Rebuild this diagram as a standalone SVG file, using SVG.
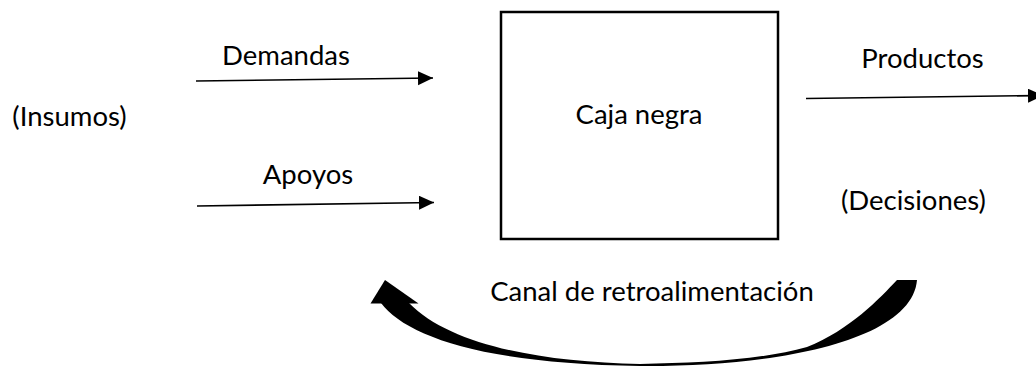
<svg xmlns="http://www.w3.org/2000/svg" width="1036" height="367" viewBox="0 0 1036 367">
<style>
.t{font-family:Lato,"Liberation Sans",sans-serif;font-size:27.5px;fill:#000;text-anchor:middle}
.c{stroke:#000;stroke-width:1.6;fill:none}
</style>
<defs>
<marker id="ah" markerUnits="userSpaceOnUse" markerWidth="16" markerHeight="15" refX="15" refY="7" orient="auto">
<path d="M0,0 L15,7 L0,14 Z" fill="#000"/>
</marker>
</defs>
<rect width="1036" height="367" fill="#fff"/>
<g id="insumos"><text class="t" x="69.5" y="126">(Insumos)</text></g>
<g id="caja"><rect x="501" y="12" width="277" height="227" fill="#fff" stroke="#000" stroke-width="2.5"/><text class="t" x="639" y="124">Caja negra</text></g>
<g id="decisiones"><text class="t" x="913.5" y="210">(Decisiones)</text></g>
<g id="connectors">
<line class="c" x1="196" y1="81" x2="433" y2="78" marker-end="url(#ah)"/>
<text class="t" x="286" y="65">Demandas</text>
<line class="c" x1="197" y1="206" x2="434" y2="202.5" marker-end="url(#ah)"/>
<text class="t" x="308" y="184">Apoyos</text>
<line class="c" x1="806" y1="98.5" x2="1043" y2="95.5" marker-end="url(#ah)"/>
<text class="t" x="922.5" y="68">Productos</text>
<path d="M381,303 C405,335 480,364 640,366 C780,367 912,340 917,280 L897,280 C880,298 850,330 807,347 C760,360 700,363 640,364 C540,362 450,345 409,303 Z" fill="#000"/>
<polygon points="385,280 370.5,303.5 418.5,303.5" fill="#000"/>
<text class="t" x="652" y="301">Canal de retroalimentación</text>
</g>
</svg>
